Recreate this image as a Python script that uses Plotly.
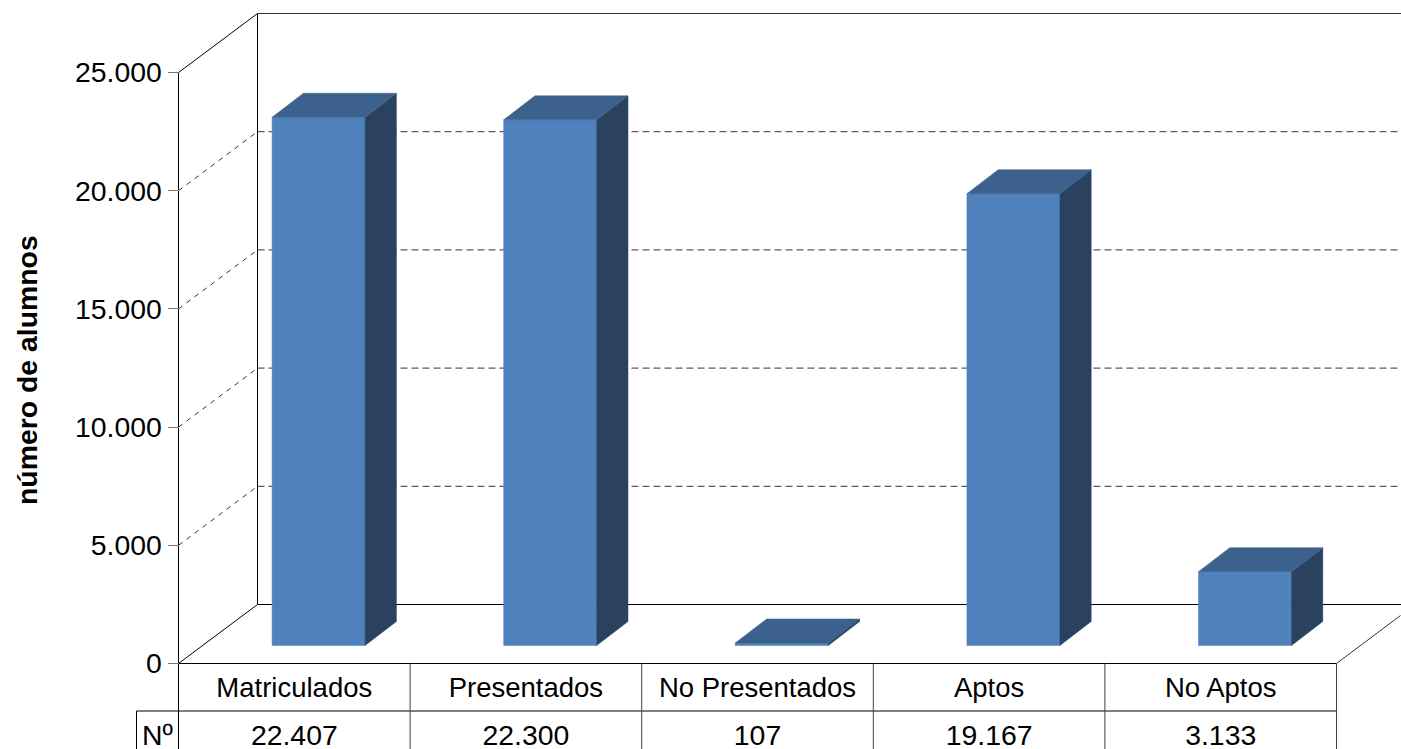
import plotly.graph_objects as go

categories = ["Matriculados", "Presentados", "No Presentados", "Aptos", "No Aptos"]
values = [22407, 22300, 107, 19167, 3133]
value_labels = ["22.407", "22.300", "107", "19.167", "3.133"]
tick_values = [0, 5000, 10000, 15000, 20000, 25000]
tick_labels = ["0", "5.000", "10.000", "15.000", "20.000", "25.000"]

W, H = 1401, 749
FONT = "Liberation Sans"
FS_NUM = 28.4
FS_CAT = 27.5
FRONT, TOP, SIDE = "#4F81BD", "#3C618C", "#2A4260"

# scale of the oblique projection (pixels per unit)
X0_PX, Y0_PX = 178.5, 663.5
PX = 231.6
PY = 591.0 / 25000
ux = lambda p: p / PX
uy = lambda p: p / PY
WALL_X, WALL_Y = ux(79), uy(59)        # depth of the whole floor
OFF_X, OFF_Y = ux(24.3), uy(18)        # bar front face offset from floor edge
DEP_X, DEP_Y = ux(31.3), uy(24)        # bar depth
BAR_W = 93 / PX
BAR_SCALE = 0.9972
XMAX = ux(W - X0_PX)
N = len(categories)
TABLE_MID = uy(-47.5)
TABLE_BOT = uy(-(H - Y0_PX))

fig = go.Figure()


def line(xs, ys, color="#000000", width=1, dash=None):
    fig.add_trace(go.Scatter(x=xs, y=ys, mode="lines", hoverinfo="skip", showlegend=False,
                             line=dict(color=color, width=width, dash=dash)))


def poly(xs, ys, color):
    fig.add_trace(go.Scatter(x=xs, y=ys, mode="lines", fill="toself", fillcolor=color, hoverinfo="skip",
                             showlegend=False, line=dict(color=color, width=0.5)))


# walls and floor
top = tick_values[-1]
line([0, 0], [0, top])
line([0, WALL_X], [0, WALL_Y])
line([0, WALL_X], [top, top + WALL_Y])
line([WALL_X, WALL_X], [WALL_Y, top + WALL_Y])
line([WALL_X, XMAX], [WALL_Y, WALL_Y])
line([WALL_X, XMAX], [top + WALL_Y, top + WALL_Y], color="#333333")
line([N, N + ux(64)], [0, uy(48)], color="#333333")
for v in tick_values[1:]:
    if v < top:
        line([0, WALL_X], [v, v + WALL_Y], color="#333333", dash="5px,5px")
    line([WALL_X, XMAX], [v + WALL_Y, v + WALL_Y], color="#333333", dash="7px,4px")

# bars
for i, v in enumerate(values):
    x1 = i + (1 - BAR_W) / 2 + OFF_X
    x2 = x1 + BAR_W
    y1 = OFF_Y
    y2 = OFF_Y + v * BAR_SCALE
    poly([x1, x2, x2, x1, x1], [y1, y1, y2, y2, y1], FRONT)
    poly([x2, x2 + DEP_X, x2 + DEP_X, x2, x2], [y1, y1 + DEP_Y, y2 + DEP_Y, y2, y1], SIDE)
    poly([x1, x2, x2 + DEP_X, x1 + DEP_X, x1], [y2, y2, y2 + DEP_Y, y2 + DEP_Y, y2], TOP)

# data table
line([0, N], [0, 0])
line([-ux(42), N], [TABLE_MID, TABLE_MID])
line([0, 0], [0, TABLE_BOT])
line([-ux(42), -ux(42)], [TABLE_MID, TABLE_BOT])
for i in range(1, N + 1):
    line([i, i], [0, TABLE_BOT], color="#444444")

fig.add_trace(go.Scatter(
    x=[i + 0.5 for i in range(N)] + [-ux(21)],
    y=[uy(-74.5)] * (N + 1),
    text=value_labels + ["Nº"],
    mode="text", textposition="middle center", hoverinfo="skip", showlegend=False,
    textfont=dict(family=FONT, size=FS_NUM, color="#000000"),
))

fig.update_layout(
    width=W, height=H, autosize=False,
    margin=dict(l=0, r=0, t=0, b=0),
    paper_bgcolor="#FFFFFF", plot_bgcolor="#FFFFFF",
    font=dict(family=FONT, size=FS_NUM, color="#000000"),
    xaxis=dict(
        range=[-ux(X0_PX), XMAX], domain=[0, 1], anchor="free", position=(H - Y0_PX) / H,
        tickmode="array", tickvals=[i + 0.5 for i in range(N)], ticktext=categories,
        tickfont=dict(family=FONT, size=FS_CAT, color="#000000"),
        ticks="", ticklabelstandoff=5, showgrid=False, zeroline=False, showline=False,
        fixedrange=True,
    ),
    yaxis=dict(
        range=[-uy(H - Y0_PX), uy(Y0_PX)], domain=[0, 1], anchor="free", position=X0_PX / W,
        tickmode="array", tickvals=tick_values, ticktext=tick_labels,
        tickfont=dict(family=FONT, size=FS_NUM, color="#000000"),
        ticks="outside", ticklen=11, tickcolor="#777777", tickwidth=1,
        showgrid=False, zeroline=False, showline=False, fixedrange=True,
    ),
    annotations=[dict(
        text="<b>número de alumnos</b>", xref="paper", yref="paper",
        x=27 / W, y=1 - 370 / H, xanchor="center", yanchor="middle", showarrow=False, textangle=-90,
        font=dict(family=FONT, size=28.4, color="#000000"),
    )],
)

fig.write_html("out.html", config={"displayModeBar": False},
               post_script="document.body.style.margin='0';document.body.style.overflow='hidden';")
